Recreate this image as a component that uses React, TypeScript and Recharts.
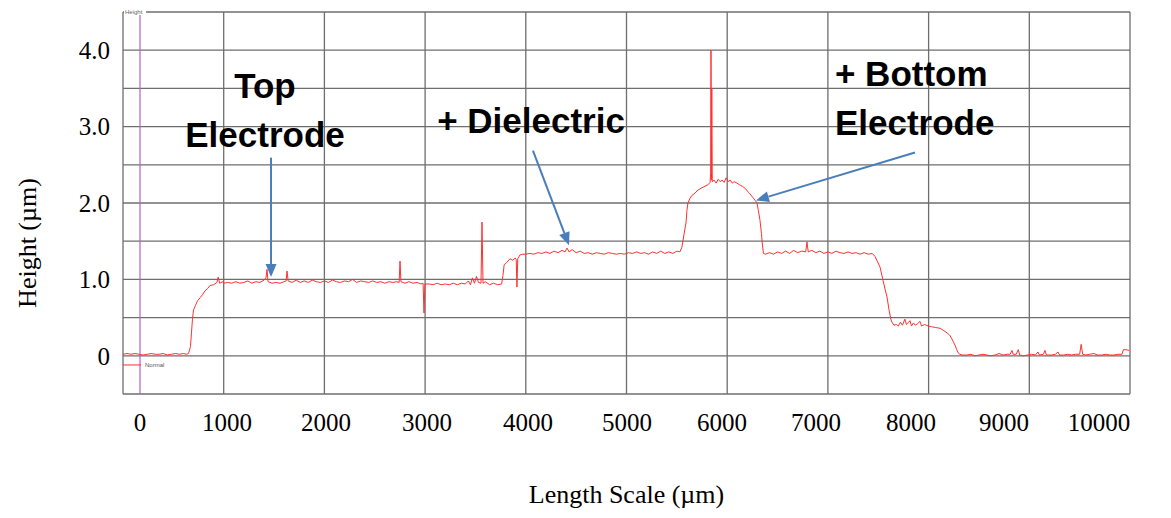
import {
  CartesianGrid,
  Label,
  Line,
  LineChart,
  ReferenceDot,
  ReferenceLine,
  XAxis,
  YAxis,
} from "recharts"

// [length (µm, along the scan), height (µm)], per region
const substrateLeft = [
  [0, 0.02], [40, 0.03], [80, 0.02], [120, 0.03], [160, 0.02], [200, 0.01], [240, 0.02],
  [280, 0.03], [320, 0.02], [360, 0.02], [400, 0.03], [440, 0.01], [480, 0.02], [520, 0.03],
  [560, 0.02], [600, 0.03], [630, 0.02],
]

const riseTop = [
  [650, 0.03], [670, 0.12], [680, 0.3], [690, 0.48], [700, 0.6], [720, 0.66], [740, 0.72],
  [765, 0.76], [790, 0.8], [814, 0.85], [840, 0.88], [864, 0.92], [900, 0.93], [933, 0.96],
  [945, 1.03], [960, 0.95], [990, 0.97],
]

const topElectrode = [
  [1000, 0.95], [1040, 0.96], [1080, 0.95], [1120, 0.97], [1160, 0.95], [1200, 0.96],
  [1240, 0.98], [1280, 0.95], [1320, 0.97], [1360, 0.96], [1400, 0.99], [1420, 1.02],
  [1430, 1.13], [1440, 0.97], [1480, 0.95], [1520, 0.96], [1560, 0.95], [1600, 0.97],
  [1620, 0.98], [1629, 1.11], [1640, 0.98], [1680, 0.96], [1720, 0.99], [1760, 0.96],
  [1800, 0.98], [1840, 0.96], [1880, 0.99], [1920, 0.97], [1960, 0.96], [2000, 0.98],
  [2040, 0.96], [2080, 0.99], [2120, 0.97], [2160, 0.96], [2200, 0.98], [2240, 0.97],
  [2280, 1.0], [2320, 0.96], [2360, 0.98], [2400, 0.97], [2440, 0.96], [2480, 0.98],
  [2520, 0.96], [2560, 0.97], [2600, 0.95], [2640, 0.97], [2680, 0.96], [2720, 0.97],
  [2742, 0.96], [2751, 1.24], [2760, 0.97], [2800, 0.95], [2840, 0.97], [2880, 0.95],
  [2920, 0.96], [2960, 0.94], [2980, 0.95], [2989, 0.56], [2998, 0.94], [3040, 0.94],
  [3080, 0.93], [3120, 0.95], [3160, 0.93], [3200, 0.94], [3240, 0.93], [3280, 0.95],
  [3320, 0.93], [3360, 0.95], [3400, 0.94], [3430, 0.98], [3450, 0.93], [3470, 1.02],
  [3490, 0.95], [3510, 1.04], [3530, 0.96], [3555, 0.95], [3565, 1.75], [3575, 0.95],
  [3600, 0.97], [3640, 0.93], [3680, 0.95], [3720, 0.93], [3760, 0.94],
]

const riseDielectric = [
  [3773, 1.05], [3785, 1.19], [3810, 1.22], [3843, 1.27], [3870, 1.25], [3895, 1.28],
  [3905, 1.26], [3912, 0.9], [3920, 1.27], [3942, 1.32], [3970, 1.33],
]

const dielectric = [
  [4000, 1.33], [4040, 1.34], [4080, 1.33], [4120, 1.35], [4160, 1.34], [4200, 1.36],
  [4240, 1.34], [4280, 1.37], [4320, 1.35], [4360, 1.38], [4390, 1.36], [4409, 1.41],
  [4430, 1.36], [4460, 1.39], [4500, 1.35], [4540, 1.37], [4580, 1.34], [4620, 1.35],
  [4660, 1.33], [4700, 1.35], [4740, 1.34], [4780, 1.33], [4820, 1.35], [4860, 1.34],
  [4900, 1.33], [4940, 1.34], [4980, 1.33], [5020, 1.35], [5060, 1.34], [5100, 1.36],
  [5140, 1.34], [5180, 1.35], [5220, 1.33], [5260, 1.36], [5300, 1.34], [5340, 1.37],
  [5380, 1.34], [5420, 1.36], [5460, 1.34], [5500, 1.37], [5530, 1.36],
]

const bottomElectrode = [
  [5550, 1.42], [5561, 1.51], [5575, 1.62], [5591, 1.74], [5600, 1.9], [5610, 2.0],
  [5630, 2.06], [5650, 2.1], [5680, 2.13], [5710, 2.17], [5750, 2.2], [5780, 2.22],
  [5810, 2.24], [5830, 2.27], [5836, 2.4], [5839, 4.0], [5843, 2.3], [5847, 3.5],
  [5852, 2.28], [5870, 2.3], [5890, 2.26], [5910, 2.31], [5930, 2.28], [5950, 2.3],
  [5970, 2.27], [5990, 2.33], [6010, 2.28], [6030, 2.3], [6050, 2.26], [6070, 2.28],
  [6097, 2.26], [6120, 2.24], [6150, 2.22], [6180, 2.19], [6197, 2.16], [6220, 2.13],
  [6256, 2.07], [6280, 2.03], [6296, 2.0], [6310, 1.9], [6326, 1.77], [6340, 1.6],
  [6350, 1.45], [6360, 1.34],
]

const dielectricRight = [
  [6380, 1.33], [6420, 1.35], [6460, 1.33], [6500, 1.36], [6540, 1.34], [6580, 1.37],
  [6620, 1.34], [6660, 1.38], [6700, 1.35], [6740, 1.37], [6780, 1.36], [6792, 1.49],
  [6805, 1.36], [6840, 1.38], [6880, 1.35], [6920, 1.37], [6960, 1.34], [7000, 1.36],
  [7040, 1.34], [7080, 1.37], [7120, 1.35], [7160, 1.34], [7200, 1.36], [7240, 1.34],
  [7280, 1.35], [7320, 1.33], [7360, 1.35], [7400, 1.33], [7440, 1.34],
]

const stepDown = [
  [7468, 1.3], [7490, 1.24], [7518, 1.16], [7547, 0.99], [7570, 0.86], [7587, 0.77],
  [7607, 0.6], [7625, 0.48], [7636, 0.44], [7656, 0.4],
]

const lowerLayer = [
  [7680, 0.41], [7700, 0.39], [7720, 0.44], [7740, 0.4], [7765, 0.48], [7780, 0.41],
  [7815, 0.46], [7830, 0.39], [7850, 0.43], [7870, 0.4], [7890, 0.42], [7914, 0.45],
  [7930, 0.39], [7960, 0.41], [7994, 0.39], [8030, 0.38], [8070, 0.37], [8113, 0.36],
  [8150, 0.33], [8183, 0.3], [8210, 0.27], [8232, 0.22], [8262, 0.14], [8280, 0.08],
  [8292, 0.04], [8310, 0.02], [8332, 0.01],
]

const substrateRight = [
  [8380, 0.01], [8420, 0.02], [8460, 0.0], [8500, 0.01], [8540, 0.02], [8580, 0.01],
  [8620, 0.0], [8660, 0.01], [8700, 0.03], [8740, 0.01], [8780, 0.02], [8810, 0.02],
  [8828, 0.07], [8840, 0.02], [8870, 0.02], [8890, 0.08], [8905, 0.01], [8940, 0.0],
  [8980, 0.01], [9020, 0.02], [9060, 0.01], [9086, 0.05], [9100, 0.01], [9140, 0.02],
  [9156, 0.07], [9170, 0.01], [9220, 0.01], [9260, 0.02], [9285, 0.05], [9300, 0.01],
  [9340, 0.01], [9380, 0.02], [9420, 0.01], [9460, 0.02], [9500, 0.02], [9515, 0.15],
  [9530, 0.02], [9560, 0.01], [9600, 0.02], [9640, 0.03], [9680, 0.01], [9720, 0.01],
  [9760, 0.02], [9800, 0.01], [9840, 0.01], [9880, 0.02], [9920, 0.02], [9935, 0.08],
  [9960, 0.08], [9990, 0.07],
]

// grid of the instrument plot
const gridX = [0, 1000, 2000, 3000, 4000, 5000, 6000, 7000, 8000, 9000, 10000]
const gridY = [-0.5, 0, 0.5, 1, 1.5, 2, 2.5, 3, 3.5, 4, 4.5]

// the pasted-on length ruler: where each label sits along the scan, and its text
const xTickPositions = [169, 1033, 2016, 3019, 4022, 5005, 5948, 6882, 7825, 8748, 9692]
const xTickLabels = ["0", "1000", "2000", "3000", "4000", "5000", "6000", "7000", "8000", "9000", "10000"]

const annotations = [
  { x: 1410, y: 3.377, lines: ["Top", "Electrode"], anchor: "middle" },
  { x: 4052, y: 2.92, lines: ["+ Dielectric"], anchor: "middle" },
  { x: 7070, y: 3.533, lines: ["+ Bottom", "Electrode"], anchor: "start" },
]

const arrows = [
  { from: { x: 1470, y: 2.594 }, to: { x: 1470, y: 1.03 } },
  { from: { x: 4071, y: 2.686 }, to: { x: 4429, y: 1.447 } },
  { from: { x: 7865, y: 2.66 }, to: { x: 6286, y: 2.034 } },
]

const profile = [
  ...substrateLeft,
  ...riseTop,
  ...topElectrode,
  ...riseDielectric,
  ...dielectric,
  ...bottomElectrode,
  ...dielectricRight,
  ...stepDown,
  ...lowerLayer,
  ...substrateRight,
].map(([x, h]) => ({ x, h }))

const serif = "'Liberation Serif', 'Times New Roman', serif"
const sans = "'Liberation Sans', Arial, sans-serif"
const arrowBlue = "#4a7ebb"
const red = "#ff3030"

const ArrowShape = (props: any) => {
  const { x1, y1, x2, y2 } = props
  const ang = Math.atan2(y2 - y1, x2 - x1)
  const len = 13
  const half = 5.5
  const bx = x2 - len * Math.cos(ang)
  const by = y2 - len * Math.sin(ang)
  const px = -Math.sin(ang) * half
  const py = Math.cos(ang) * half
  return (
    <g>
      <line x1={x1} y1={y1} x2={bx} y2={by} stroke={arrowBlue} strokeWidth={2} />
      <polygon
        points={`${x2},${y2} ${bx + px},${by + py} ${bx - px},${by - py}`}
        fill={arrowBlue}
      />
    </g>
  )
}

const formatHeight = (v: number) => {
  if (!Number.isInteger(v)) return ""
  return v === 0 ? "0" : v.toFixed(1)
}

export default function App() {
  return (
    <div style={{ position: "absolute", left: 0, top: 0, background: "#fff" }}>
      <LineChart
        width={1171}
        height={518}
        data={profile}
        margin={{ top: 12, right: 41, bottom: 0, left: 0 }}
      >
        <CartesianGrid
          stroke="#6e6e6e"
          strokeWidth={1.3}
          verticalValues={gridX}
          horizontalValues={gridY}
        />
        <XAxis
          dataKey="x"
          type="number"
          domain={[0, 10000]}
          ticks={xTickPositions}
          tickFormatter={(_v: number, i: number) => xTickLabels[i]}
          interval={0}
          axisLine={false}
          tickLine={false}
          tickMargin={13}
          height={124}
          tick={{ fontFamily: serif, fontSize: 25, fill: "#000" }}
        >
          <Label
            value="Length Scale (µm)"
            position="insideBottom"
            offset={15}
            style={{ fontFamily: serif, fontSize: 26, fill: "#000" }}
          />
        </XAxis>
        <YAxis
          type="number"
          domain={[-0.5, 4.5]}
          ticks={gridY}
          interval={0}
          width={123}
          axisLine={false}
          tickLine={false}
          tickMargin={7}
          tickFormatter={formatHeight}
          tick={{ fontFamily: serif, fontSize: 25, fill: "#000" }}
        >
          <Label
            content={({ viewBox }: any) => {
              const cx = 27
              const cy = viewBox.y + viewBox.height / 2 + 40
              return (
                <text
                  x={cx}
                  y={cy}
                  transform={`rotate(-90 ${cx} ${cy})`}
                  textAnchor="middle"
                  dominantBaseline="central"
                  fontFamily={serif}
                  fontSize={26}
                  fill="#000"
                >
                  Height (µm)
                </text>
              )
            }}
          />
        </YAxis>
        <ReferenceLine x={xTickPositions[0]} stroke="#b060d0" strokeWidth={1.2} />
        <Line
          dataKey="h"
          type="linear"
          stroke={red}
          strokeWidth={1}
          dot={false}
          activeDot={false}
          isAnimationActive={false}
        />
        <ReferenceDot
          x={0}
          y={4.5}
          ifOverflow="visible"
          shape={(p: any) => (
            <g>
              <rect x={p.cx + 1} y={p.cy - 3} width={22} height={6} fill="#fff" />
              <text x={p.cx + 2} y={p.cy + 2} fontFamily={sans} fontSize={6} fill="#666">
                Height
              </text>
            </g>
          )}
        />
        <ReferenceDot
          x={0}
          y={-0.12}
          ifOverflow="visible"
          shape={(p: any) => (
            <g>
              <line x1={p.cx} y1={p.cy} x2={p.cx + 18} y2={p.cy} stroke={red} strokeWidth={1} />
              <text x={p.cx + 22} y={p.cy + 2} fontFamily={sans} fontSize={6} fill="#555">
                Normal
              </text>
            </g>
          )}
        />
        {arrows.map((a, i) => (
          <ReferenceLine
            key={`arrow-${i}`}
            segment={[a.from, a.to]}
            ifOverflow="visible"
            shape={ArrowShape}
          />
        ))}
        {annotations.map((n, i) => (
          <ReferenceDot
            key={`note-${i}`}
            x={n.x}
            y={n.y}
            ifOverflow="visible"
            shape={(p: any) => (
              <text
                x={p.cx}
                y={p.cy}
                textAnchor={n.anchor}
                fontFamily={sans}
                fontWeight="bold"
                fontSize={35}
                fill="#000"
              >
                {n.lines.map((t, j) => (
                  <tspan key={t} x={p.cx} dy={j === 0 ? 0 : 49}>
                    {t}
                  </tspan>
                ))}
              </text>
            )}
          />
        ))}
      </LineChart>
    </div>
  )
}
